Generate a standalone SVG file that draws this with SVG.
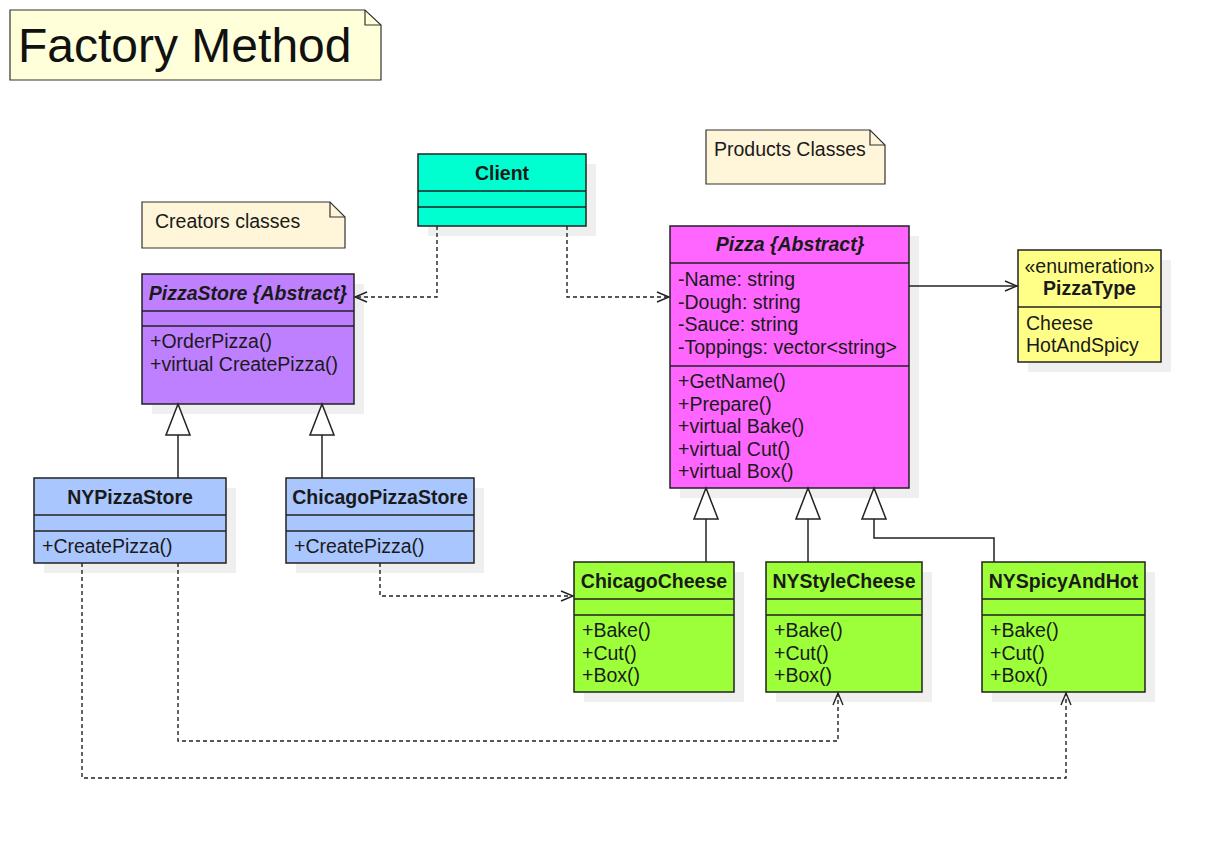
<svg xmlns="http://www.w3.org/2000/svg" width="1225" height="844" viewBox="0 0 1225 844">
<style>
text{font-family:"Liberation Sans",Arial,sans-serif;font-size:19.5px;fill:#1a1a1a}
.t{font-weight:bold;text-anchor:middle}
.ti{font-weight:bold;font-style:italic;text-anchor:middle}
.box{stroke:#222;stroke-width:1.5}
.sh{fill:#efefef}
.ln{stroke:#222;stroke-width:1.5;fill:none}
.note{stroke:#333;stroke-width:1.2}
.dep{stroke:#222;stroke-width:1.4;fill:none;stroke-dasharray:4 3}
.sol{stroke:#222;stroke-width:1.5;fill:none}
.tri{fill:#fff;stroke:#222;stroke-width:1.5}
</style>
<defs>
<marker id="open" markerUnits="userSpaceOnUse" markerWidth="16" markerHeight="14" refX="13" refY="6" orient="auto" viewBox="0 0 16 12">
<path d="M1,1 L13,6 L1,11" fill="none" stroke="#222" stroke-width="1.4"/>
</marker>
</defs>

<g id="title-note">
<path class="note" d="M10,10 H365 L381,25 V80 H10 Z" fill="#ffffd9"/>
<path class="note" d="M365,10 V25 H381" fill="none"/>
<text x="18" y="62" style="font-size:48px;fill:#111">Factory Method</text>
</g>

<g id="creators-note">
<path class="note" d="M142,202 H330 L345,217 V248 H142 Z" fill="#fff5d8"/>
<path class="note" d="M330,202 V217 H345" fill="none"/>
<text x="155" y="228">Creators classes</text>
</g>

<g id="products-note">
<path class="note" d="M706,130 H870 L885,145 V184 H706 Z" fill="#fff5d8"/>
<path class="note" d="M870,130 V145 H885" fill="none"/>
<text x="714" y="156">Products Classes</text>
</g>

<g id="Client">
<rect class="sh" x="428" y="164" width="168" height="72"/>
<rect class="box" x="418" y="154" width="168" height="72" fill="#00ffd0"/>
<path class="ln" d="M418,191 H586 M418,207 H586"/>
<text class="t" x="502" y="180">Client</text>
</g>

<g id="PizzaStore">
<rect class="sh" x="152" y="284" width="212" height="130"/>
<rect class="box" x="142" y="274" width="212" height="130" fill="#bf80ff"/>
<path class="ln" d="M142,311 H354 M142,326 H354"/>
<text class="ti" x="248" y="300">PizzaStore {Abstract}</text>
<text x="150" y="348">+OrderPizza()</text>
<text x="150" y="371">+virtual CreatePizza()</text>
</g>

<g id="NYPizzaStore">
<rect class="sh" x="44" y="488" width="192" height="85"/>
<rect class="box" x="34" y="478" width="192" height="85" fill="#a9c6ff"/>
<path class="ln" d="M34,515 H226 M34,531 H226"/>
<text class="t" x="130" y="504">NYPizzaStore</text>
<text x="42" y="553">+CreatePizza()</text>
</g>

<g id="ChicagoPizzaStore">
<rect class="sh" x="296" y="488" width="188" height="85"/>
<rect class="box" x="286" y="478" width="188" height="85" fill="#a9c6ff"/>
<path class="ln" d="M286,515 H474 M286,531 H474"/>
<text class="t" x="380" y="504">ChicagoPizzaStore</text>
<text x="294" y="553">+CreatePizza()</text>
</g>

<g id="Pizza">
<rect class="sh" x="680" y="236" width="239" height="262"/>
<rect class="box" x="670" y="226" width="239" height="262" fill="#ff66ff"/>
<path class="ln" d="M670,263 H909 M670,366 H909"/>
<text class="ti" x="790" y="251">Pizza {Abstract}</text>
<text x="678" y="286">-Name: string</text>
<text x="678" y="309">-Dough: string</text>
<text x="678" y="331">-Sauce: string</text>
<text x="678" y="354">-Toppings: vector&lt;string&gt;</text>
<text x="678" y="388">+GetName()</text>
<text x="678" y="411">+Prepare()</text>
<text x="678" y="433">+virtual Bake()</text>
<text x="678" y="456">+virtual Cut()</text>
<text x="678" y="478">+virtual Box()</text>
</g>

<g id="PizzaType">
<rect class="sh" x="1028" y="260" width="143" height="112"/>
<rect class="box" x="1018" y="250" width="143" height="112" fill="#ffff88"/>
<path class="ln" d="M1018,307 H1161"/>
<text x="1089.5" y="273" style="text-anchor:middle">«enumeration»</text>
<text class="t" x="1089.5" y="295">PizzaType</text>
<text x="1026" y="330">Cheese</text>
<text x="1026" y="352">HotAndSpicy</text>
</g>

<g id="ChicagoCheese">
<rect class="sh" x="584" y="572" width="160" height="130"/>
<rect class="box" x="574" y="562" width="160" height="130" fill="#9cff3a"/>
<path class="ln" d="M574,599 H734 M574,615 H734"/>
<text class="t" x="654" y="588">ChicagoCheese</text>
<text x="582" y="637">+Bake()</text>
<text x="582" y="660">+Cut()</text>
<text x="582" y="682">+Box()</text>
</g>

<g id="NYStyleCheese">
<rect class="sh" x="776" y="572" width="156" height="130"/>
<rect class="box" x="766" y="562" width="156" height="130" fill="#9cff3a"/>
<path class="ln" d="M766,599 H922 M766,615 H922"/>
<text class="t" x="844" y="588">NYStyleCheese</text>
<text x="774" y="637">+Bake()</text>
<text x="774" y="660">+Cut()</text>
<text x="774" y="682">+Box()</text>
</g>

<g id="NYSpicyAndHot">
<rect class="sh" x="992" y="572" width="163" height="130"/>
<rect class="box" x="982" y="562" width="163" height="130" fill="#9cff3a"/>
<path class="ln" d="M982,599 H1145 M982,615 H1145"/>
<text class="t" x="1063.5" y="588">NYSpicyAndHot</text>
<text x="990" y="637">+Bake()</text>
<text x="990" y="660">+Cut()</text>
<text x="990" y="682">+Box()</text>
</g>

<g id="connectors">
<path class="dep" d="M437,226 V297 H355" marker-end="url(#open)"/>
<path class="dep" d="M567,226 V297 H669" marker-end="url(#open)"/>
<path class="dep" d="M380,563 V596 H573" marker-end="url(#open)"/>
<path class="dep" d="M178,563 V741 H838 V693" marker-end="url(#open)"/>
<path class="dep" d="M82,563 V778 H1066 V693" marker-end="url(#open)"/>
<path class="sol" d="M909,286 H1017" marker-end="url(#open)"/>
<path class="sol" d="M178,435 V478"/>
<path class="tri" d="M178,404 L190,435 L166,435 Z"/>
<path class="sol" d="M322,435 V478"/>
<path class="tri" d="M322,404 L334,435 L310,435 Z"/>
<path class="sol" d="M706,519 V562"/>
<path class="tri" d="M706,488 L718,519 L694,519 Z"/>
<path class="sol" d="M808,519 V562"/>
<path class="tri" d="M808,488 L820,519 L796,519 Z"/>
<path class="sol" d="M874,519 V538 H994 V562"/>
<path class="tri" d="M874,488 L886,519 L862,519 Z"/>
</g>
</svg>
